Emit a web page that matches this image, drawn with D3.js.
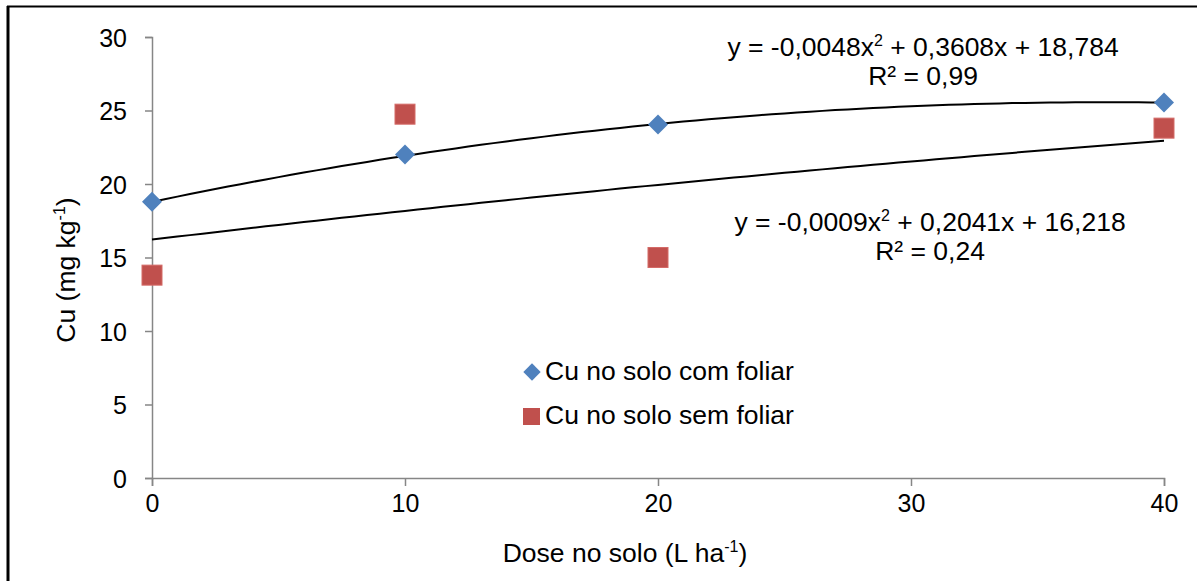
<!DOCTYPE html>
<html>
<head>
<meta charset="utf-8">
<script src="https://cdn.jsdelivr.net/npm/d3@7/dist/d3.min.js"></script>
<style>
  body { margin: 0; background: #fff; }
  text { font-family: "Liberation Sans", Arial, sans-serif; fill: #000; }
</style>
</head>
<body>
<script>
// data
var doses = [0, 10, 20, 40];
var cuComFoliar = [18.8, 22.0, 24.05, 25.55];
var cuSemFoliar = [13.8, 24.75, 15.0, 23.8];
var xTicks = [0, 10, 20, 30, 40];
var yTicks = [0, 5, 10, 15, 20, 25, 30];
// trendline coefficients shown on the chart (a*x^2 + b*x + c)
var fitCom = [-0.0048, 0.3608, 18.784];
var fitSem = [-0.0009, 0.2041, 16.218];

var W = 1197, H = 581;
var svg = d3.select("body").append("svg").attr("width", W).attr("height", H);

// frame (only top and left are visible in the crop)
svg.append("line").attr("x1", 7).attr("x2", W).attr("y1", 6.5).attr("y2", 6.5)
  .attr("stroke", "#000").attr("stroke-width", 2);
svg.append("line").attr("x1", 8).attr("x2", 8).attr("y1", 6).attr("y2", H)
  .attr("stroke", "#000").attr("stroke-width", 3);

var x = d3.scaleLinear().domain([0, 40]).range([152, 1164]);
var y = d3.scaleLinear().domain([0, 30]).range([478, 37]);

var axisColor = "#868686";
var fs = "26.5px", tfs = "25px";

// y axis
var gy = svg.append("g").attr("transform", "translate(" + x(0) + ",0)")
  .call(d3.axisLeft(y).tickValues(yTicks).tickSize(7).tickPadding(18));
gy.select(".domain").attr("stroke", axisColor).attr("stroke-width", 1.5);
gy.selectAll(".tick line").attr("stroke", axisColor).attr("stroke-width", 1.5);
gy.selectAll(".tick text").style("font-size", tfs).attr("dy", "0.36em");

// x axis
var gx = svg.append("g").attr("transform", "translate(0," + y(0) + ")")
  .call(d3.axisBottom(x).tickValues(xTicks).tickSize(8).tickPadding(8));
gx.select(".domain").attr("stroke", axisColor).attr("stroke-width", 1.5);
gx.selectAll(".tick line").attr("stroke", axisColor).attr("stroke-width", 1.5);
gx.selectAll(".tick text").style("font-size", tfs);

// axis titles
var xt = svg.append("text").attr("x", 625).attr("y", 562).attr("text-anchor", "middle")
  .style("font-size", fs);
xt.append("tspan").text("Dose no solo (L ha");
xt.append("tspan").attr("dy", -10).style("font-size", "16px").text("-1");
xt.append("tspan").attr("dy", 10).text(")");

var yt = svg.append("text")
  .attr("transform", "translate(75,270) rotate(-90)")
  .attr("text-anchor", "middle").style("font-size", fs);
yt.append("tspan").text("Cu (mg kg");
yt.append("tspan").attr("dy", -10).style("font-size", "16px").text("-1");
yt.append("tspan").attr("dy", 10).text(")");

// trendlines
function poly(c) { return function (v) { return c[0] * v * v + c[1] * v + c[2]; }; }
var xs = d3.range(0, 40.01, 0.5);
var line = d3.line().x(function (d) { return x(d[0]); }).y(function (d) { return y(d[1]); });
[fitCom, fitSem].forEach(function (c) {
  var f = poly(c);
  svg.append("path").datum(xs.map(function (v) { return [v, f(v)]; }))
    .attr("d", line).attr("fill", "none").attr("stroke", "#000").attr("stroke-width", 2);
});

var blue = "#4F81BD", red = "#C0504D";
var diamond = d3.symbol().type(d3.symbolSquare).size(200);

// series: com foliar (diamonds)
svg.selectAll(".dia").data(doses).enter().append("path")
  .attr("d", diamond)
  .attr("transform", function (d, i) { return "translate(" + x(d) + "," + y(cuComFoliar[i]) + ") rotate(45)"; })
  .attr("fill", blue);

// series: sem foliar (squares)
svg.selectAll(".sq").data(doses).enter().append("rect")
  .attr("x", function (d) { return x(d) - 10; })
  .attr("y", function (d, i) { return y(cuSemFoliar[i]) - 10; })
  .attr("width", 20).attr("height", 20)
  .attr("fill", red).attr("stroke", "#d46a67").attr("stroke-width", 1);

// equations
function eq(cx, by, parts, r2) {
  var t = svg.append("text").attr("x", cx).attr("y", by).attr("text-anchor", "middle").style("font-size", fs);
  t.append("tspan").text(parts[0]);
  t.append("tspan").attr("dy", -10).style("font-size", "16px").text("2");
  t.append("tspan").attr("dy", 10).text(parts[1]);
  svg.append("text").attr("x", cx).attr("y", by + 29).attr("text-anchor", "middle")
    .style("font-size", fs).text(r2);
}
eq(923, 56, ["y = -0,0048x", " + 0,3608x + 18,784"], "R² = 0,99");
eq(930, 231, ["y = -0,0009x", " + 0,2041x + 16,218"], "R² = 0,24");

// legend
svg.append("path").attr("d", d3.symbol().type(d3.symbolSquare).size(150))
  .attr("transform", "translate(532,372) rotate(45)").attr("fill", blue);
svg.append("text").attr("x", 545).attr("y", 380).style("font-size", fs).text("Cu no solo com foliar");
svg.append("rect").attr("x", 523).attr("y", 408).attr("width", 17).attr("height", 17).attr("fill", red);
svg.append("text").attr("x", 545).attr("y", 424).style("font-size", fs).text("Cu no solo sem foliar");
</script>
</body>
</html>
